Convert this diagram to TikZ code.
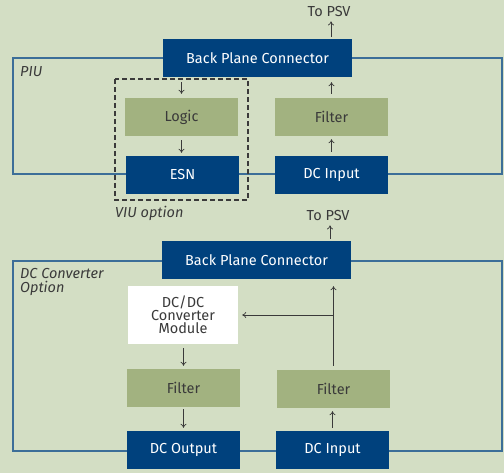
\documentclass[tikz,border=0pt]{standalone}
\usepackage{fontspec}
\setmainfont{Fira Sans}
\usetikzlibrary{arrows.meta}
\definecolor{bg}{HTML}{D3DEC4}
\definecolor{dblue}{HTML}{00417D}
\definecolor{lgreen}{HTML}{A2B280}
\definecolor{lineblue}{HTML}{3C6E98}
\definecolor{txt}{HTML}{3A3A3A}
\tikzset{
  bluebox/.style={fill=dblue, text=white, minimum width=113pt, minimum height=38pt, inner sep=0pt, font=\fontsize{14.5}{16}\selectfont},
  greenbox/.style={fill=lgreen, text=txt, minimum width=113pt, minimum height=38pt, inner sep=0pt, font=\fontsize{14.5}{16}\selectfont},
  whitebox/.style={fill=white, text=txt, minimum width=110pt, minimum height=58pt, inner sep=0pt, align=center, font=\fontsize{14.5}{13}\selectfont},
  frame/.style={draw=lineblue, line width=1.2pt},
  arr/.style={draw=txt, line width=0.7pt, -{To[length=4pt,width=6pt]}},
  lbl/.style={text=txt, font=\fontsize{14.5}{14}\selectfont\itshape, anchor=north west, inner sep=0pt, align=left},
  psv/.style={text=txt, font=\fontsize{14.5}{16}\selectfont, inner sep=0pt}
}
\begin{document}
\begin{tikzpicture}[x=1pt,y=-1pt]
\fill[bg] (0,0) rectangle (504,473);
\useasboundingbox (0,0) rectangle (504,473);
% top section
\draw[frame] (13,58) rectangle (502,174);
\draw[txt, line width=1.3pt, dash pattern=on 5pt off 3pt] (115,79) rectangle (248,200);
\node[bluebox, minimum width=189pt] (bpc1) at (257.5,58) {Back Plane Connector};
\node[greenbox] (logic) at (181.5,117) {Logic};
\node[bluebox] (esn) at (182.5,175) {ESN};
\node[greenbox] (filt1) at (331.5,117) {Filter};
\node[bluebox] (dcin1) at (331.5,175) {DC Input};
\node[psv] (psv1) at (329,12) {To PSV};
\node[lbl] (piu) at (20,66) {PIU};
\node[lbl] (viu) at (115,206) {VIU option};
\draw[arr, shorten <=5pt, shorten >=4pt] (logic.north |- bpc1.south) -- (logic.north);
\draw[arr, shorten <=4pt, shorten >=3pt] (logic.south) -- (logic.south |- esn.north);
\draw[arr, shorten <=4pt, shorten >=3pt] (dcin1.north) -- (filt1.south);
\draw[arr, shorten <=4pt, shorten >=5pt] (filt1.north) -- (filt1.north |- bpc1.south);
\draw[arr, shorten <=2pt, shorten >=4pt] ([xshift=2pt]psv1.south |- bpc1.north) -- ([xshift=2pt]psv1.south);
% bottom section
\draw[frame] (13,261) rectangle (502,451);
\node[bluebox, minimum width=189pt] (bpc2) at (256.5,260) {Back Plane Connector};
\node[whitebox] (conv) at (183,315) {DC/DC\\Converter\\Module};
\node[greenbox] (filt2) at (183.5,388) {Filter};
\node[greenbox] (filt3) at (333.5,389) {Filter};
\node[bluebox] (dcout) at (183.5,450) {DC Output};
\node[bluebox] (dcin2) at (332.5,450) {DC Input};
\node[psv] (psv2) at (328,216) {To PSV};
\node[lbl] (dcc) at (20,268) {DC Converter\\Option};
\draw[arr, shorten <=4pt, shorten >=3pt] (conv.south -| filt2.north) -- (filt2.north);
\draw[arr, shorten <=2pt, shorten >=3pt] (filt2.south) -- (dcout.north);
\draw[arr, shorten <=3pt, shorten >=3pt] (dcin2.north) -- (dcin2.north |- filt3.south);
\coordinate (br) at (filt3.north |- conv.east);
\draw[arr, shorten <=4pt, shorten >=7pt] (filt3.north) -- (filt3.north |- bpc2.south);
\draw[arr, shorten >=4pt] (br) -- (conv.east);
\draw[arr, shorten <=2pt, shorten >=4pt] ([xshift=2pt]psv2.south |- bpc2.north) -- ([xshift=2pt]psv2.south);
\end{tikzpicture}
\end{document}
